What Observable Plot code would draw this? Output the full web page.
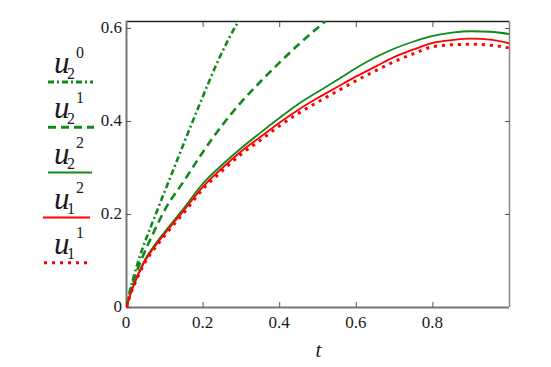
<!DOCTYPE html>
<html><head>
<style>
body{margin:0;background:#fff}
#wrap{position:relative;width:551px;height:367px;font-family:'Liberation Serif',serif}
#legend{position:absolute;left:0;top:0}
.lbl{position:absolute;left:0;top:0;white-space:nowrap;font-family:'Liberation Serif',serif;color:#1a1a1a;pointer-events:none;z-index:3}
.tk{font-size:17px;line-height:17px}
.u{font-size:31px;line-height:31px;font-style:italic}
.ix{font-size:16px;line-height:16px}
.ax{font-size:21px;line-height:21px;font-style:italic}
</style>
<script src="https://cdn.jsdelivr.net/npm/d3@7"></script>
<script src="https://cdn.jsdelivr.net/npm/@observablehq/plot@0.6"></script>
</head><body>
<div id="wrap">
<div class="lbl tk xt">0</div><div class="lbl tk xt">0.2</div><div class="lbl tk xt">0.4</div><div class="lbl tk xt">0.6</div><div class="lbl tk xt">0.8</div>
<div class="lbl tk yt">0</div><div class="lbl tk yt">0.2</div><div class="lbl tk yt">0.4</div><div class="lbl tk yt">0.6</div>
<div class="lbl ax" id="xl">t</div>
<div class="lbl u">u</div><div class="lbl u">u</div><div class="lbl u">u</div><div class="lbl u">u</div><div class="lbl u">u</div>
<div class="lbl ix sup">0</div><div class="lbl ix sup">1</div><div class="lbl ix sup">2</div><div class="lbl ix sup">2</div><div class="lbl ix sup">1</div>
<div class="lbl ix sub">2</div><div class="lbl ix sub">2</div><div class="lbl ix sub">2</div><div class="lbl ix sub">1</div><div class="lbl ix sub">1</div>
</div>
<script>
// ---- data ----
const tU20 = [0, 0.01, 0.02, 0.037, 0.076, 0.1, 0.14, 0.19, 0.245, 0.29, 0.3];
const u20  = [0, 0.04, 0.07, 0.115, 0.2, 0.25, 0.333, 0.435, 0.541, 0.612, 0.625];
const tU21 = [0, 0.01, 0.02, 0.04, 0.07, 0.1, 0.15, 0.2, 0.25, 0.3, 0.35, 0.4, 0.45, 0.5, 0.52];
const u21  = [0, 0.035, 0.062, 0.105, 0.16, 0.21, 0.272, 0.335, 0.392, 0.442, 0.486, 0.527, 0.566, 0.602, 0.616];
const tGrid = [0, 0.01, 0.02, 0.045, 0.08, 0.1, 0.15, 0.2, 0.25, 0.3, 0.35, 0.4, 0.45, 0.5, 0.55, 0.6, 0.65, 0.7, 0.75, 0.8, 0.85, 0.9, 0.95, 1.0];
const u22 = [0, 0.03, 0.052, 0.098, 0.142, 0.163, 0.214, 0.267, 0.307, 0.343, 0.376, 0.408, 0.438, 0.464, 0.489, 0.515, 0.538, 0.557, 0.572, 0.584, 0.591, 0.594, 0.593, 0.588];
const u12 = [0, 0.028, 0.05, 0.095, 0.138, 0.159, 0.209, 0.26, 0.300, 0.336, 0.367, 0.398, 0.426, 0.451, 0.474, 0.497, 0.518, 0.539, 0.555, 0.569, 0.575, 0.578, 0.576, 0.568];
const u11 = [0, 0.027, 0.048, 0.092, 0.134, 0.155, 0.204, 0.255, 0.294, 0.33, 0.36, 0.391, 0.418, 0.442, 0.465, 0.488, 0.509, 0.529, 0.546, 0.561, 0.565, 0.566, 0.564, 0.558];

const xTicks = [0, 0.2, 0.4, 0.6, 0.8];
const xTickLabels = ["0", "0.2", "0.4", "0.6", "0.8"];
const yTicks = [0, 0.2, 0.4, 0.6];
const yTickLabels = ["0", "0.2", "0.4", "0.6"];
const xDomain = [0, 1];
const yDomain = [0, 0.615];
const xLabel = "t";

const green = "#10891a", red = "#ff0000";
const series = [
  {name: "u20", sup: "0", sub: "2", t: tU20, v: u20, stroke: green, dash: "6,3,2,3", width: 2.6},
  {name: "u21", sup: "1", sub: "2", t: tU21, v: u21, stroke: green, dash: "8,5", width: 2.6},
  {name: "u22", sup: "2", sub: "2", t: tGrid, v: u22, stroke: green, dash: null, width: 1.8},
  {name: "u12", sup: "2", sub: "1", t: tGrid, v: u12, stroke: red, dash: null, width: 1.8},
  {name: "u11", sup: "1", sub: "1", t: tGrid, v: u11, stroke: red, dash: "3,5", width: 3}
];
const rows = s => s.t.map((t, i) => ({t, v: s.v[i]}));

const chart = Plot.plot({
  width: 551, height: 367,
  marginLeft: 126, marginRight: 42, marginTop: 21, marginBottom: 60,
  style: {background: "#fff", overflow: "visible"},
  x: {domain: xDomain},
  y: {domain: yDomain},
  marks: [
    Plot.ruleY([yDomain[1]], {stroke: "#222", strokeWidth: 1.5}),
    Plot.ruleX([xDomain[1]], {stroke: "#888", strokeWidth: 1.5}),
    Plot.ruleX([xDomain[0]], {stroke: "#777", strokeWidth: 2}),
    Plot.ruleY([yDomain[0]], {stroke: "#777", strokeWidth: 2}),
    Plot.axisX({anchor: "bottom", ticks: xTicks, tickSize: -5, tickFormat: () => "", stroke: "#555", label: null}),
    Plot.axisX({anchor: "top", ticks: xTicks.slice(1), tickSize: -5, tickFormat: () => "", stroke: "#555", label: null}),
    Plot.axisY({anchor: "left", ticks: yTicks, tickSize: -5, tickFormat: () => "", stroke: "#555", label: null}),
    Plot.axisY({anchor: "right", ticks: yTicks.slice(1), tickSize: -5, tickFormat: () => "", stroke: "#555", label: null}),
    ...series.map(s => Plot.line(rows(s), {
      x: "t", y: "v", stroke: s.stroke, strokeWidth: s.width,
      strokeDasharray: s.dash, curve: "monotone-x", clip: true, strokeLinecap: "butt"
    }))
  ]
});
const wrap = document.getElementById("wrap");
wrap.insertBefore(chart, wrap.firstChild);

// ---- position the (static, serif) text with Plot's own scales ----
const xs = chart.scale("x"), ys = chart.scale("y");
const place = (el, left, top, transform) => {
  el.style.left = left + "px"; el.style.top = top + "px";
  if (transform) el.style.transform = transform;
};
const y0px = ys.apply(yDomain[0]), x0px = xs.apply(xDomain[0]);
document.querySelectorAll(".xt").forEach((el, i) => place(el, xs.apply(xTicks[i]), y0px + 7, "translateX(-50%)"));
document.querySelectorAll(".yt").forEach((el, i) => place(el, x0px - 4, ys.apply(yTicks[i]) - 8.6, "translateX(-100%)"));
place(document.getElementById("xl"), (xs.apply(xDomain[0]) + xs.apply(xDomain[1])) / 2 + 1, y0px + 33, "translateX(-50%)");

// ---- legend (left margin) ----
const lg = d3.select(wrap).append("svg").attr("id", "legend").attr("width", 120).attr("height", 367);
const lineY0 = 82, step = 45.2;
const lineX = [[48, 93], [48, 94], [48, 92], [43, 90], [44, 88]];
const us = document.querySelectorAll(".u"), sups = document.querySelectorAll(".sup"), subs = document.querySelectorAll(".sub");
series.forEach((s, i) => {
  const ly = lineY0 + i * step;
  lg.append("line").attr("x1", lineX[i][0]).attr("x2", lineX[i][1]).attr("y1", ly).attr("y2", ly)
    .attr("stroke", s.stroke).attr("stroke-width", s.dash ? 3 : 2).attr("stroke-dasharray", s.dash);
  place(us[i], 54, ly - 9 - 0.835 * 31);
  place(sups[i], 76, ly - 24 - 0.835 * 16);
  place(subs[i], 67, ly - 3 - 0.835 * 16);
});
</script>
</body></html>
